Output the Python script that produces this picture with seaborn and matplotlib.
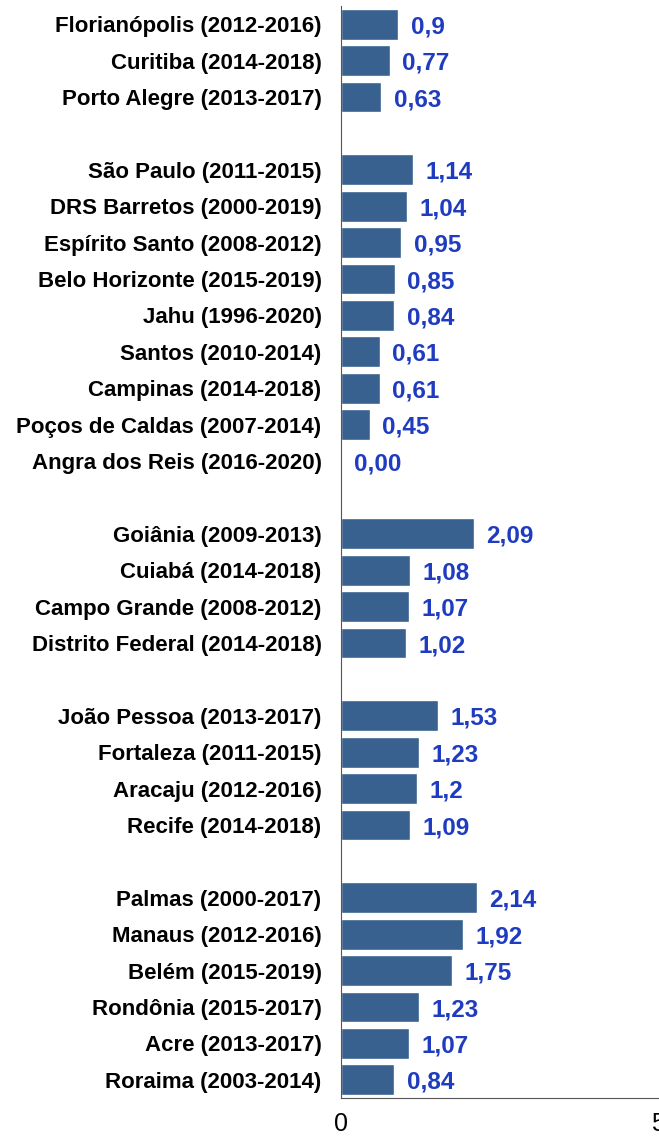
import pandas as pd
import numpy as np
import matplotlib.pyplot as plt
import seaborn as sns

# Dados (grupos separados por linhas vazias)
grupos = [
    ['Florianópolis (2012-2016)', 'Curitiba (2014-2018)', 'Porto Alegre (2013-2017)'],
    ['São Paulo (2011-2015)', 'DRS Barretos (2000-2019)', 'Espírito Santo (2008-2012)',
     'Belo Horizonte (2015-2019)', 'Jahu (1996-2020)', 'Santos (2010-2014)',
     'Campinas (2014-2018)', 'Poços de Caldas (2007-2014)', 'Angra dos Reis (2016-2020)'],
    ['Goiânia (2009-2013)', 'Cuiabá (2014-2018)', 'Campo Grande (2008-2012)',
     'Distrito Federal (2014-2018)'],
    ['João Pessoa (2013-2017)', 'Fortaleza (2011-2015)', 'Aracaju (2012-2016)',
     'Recife (2014-2018)'],
    ['Palmas (2000-2017)', 'Manaus (2012-2016)', 'Belém (2015-2019)',
     'Rondônia (2015-2017)', 'Acre (2013-2017)', 'Roraima (2003-2014)'],
]
valores = [
    [0.9, 0.77, 0.63],
    [1.14, 1.04, 0.95, 0.85, 0.84, 0.61, 0.61, 0.45, 0.00],
    [2.09, 1.08, 1.07, 1.02],
    [1.53, 1.23, 1.2, 1.09],
    [2.14, 1.92, 1.75, 1.23, 1.07, 0.84],
]
rotulos = [
    ['0,9', '0,77', '0,63'],
    ['1,14', '1,04', '0,95', '0,85', '0,84', '0,61', '0,61', '0,45', '0,00'],
    ['2,09', '1,08', '1,07', '1,02'],
    ['1,53', '1,23', '1,2', '1,09'],
    ['2,14', '1,92', '1,75', '1,23', '1,07', '0,84'],
]

# Montar tabela com linhas em branco entre os grupos
cats, vals, txts = [], [], []
for i, (g, v, t) in enumerate(zip(grupos, valores, rotulos)):
    if i > 0:
        cats.append(' ' * i)
        vals.append(np.nan)
        txts.append('')
    cats += g
    vals += v
    txts += t
df = pd.DataFrame({'local': cats, 'valor': vals})

sns.set_style('white')
plt.rcParams['font.family'] = ['Liberation Sans', 'DejaVu Sans']

fig = plt.figure(figsize=(6.59, 11.37), dpi=100)
ax = fig.add_axes([0.5175, 0.0343, 0.4815, 0.9604])
sns.barplot(data=df, x='valor', y='local', order=cats, color='#38618F',
            saturation=1, width=0.85, ax=ax)

for y, (v, t) in enumerate(zip(vals, txts)):
    if t:
        ax.annotate(t, (v, y), xytext=(9, 0), textcoords='offset points',
                    ha='left', va='center_baseline', fontsize=17.5,
                    fontweight='bold', color='#1F3CC0')

ax.set_xlim(0, 5)
ax.set_ylim(len(cats) - 0.5, -0.5)
ax.set_xticks([0, 5])
ax.set_xticklabels(['0', '5'], fontsize=18, color='black')
ax.set_xlabel('')
ax.set_ylabel('')
ax.tick_params(axis='y', length=0, pad=14)
for lab in ax.get_yticklabels():
    lab.set_fontweight('bold')
    lab.set_fontsize(16)
    lab.set_color('black')
ax.tick_params(axis='x', length=4, color='#555555', pad=6)
sns.despine(ax=ax, top=True, right=True)
ax.spines['left'].set_color('#555555')
ax.spines['bottom'].set_color('#555555')

plt.savefig('out.png', dpi=100)
